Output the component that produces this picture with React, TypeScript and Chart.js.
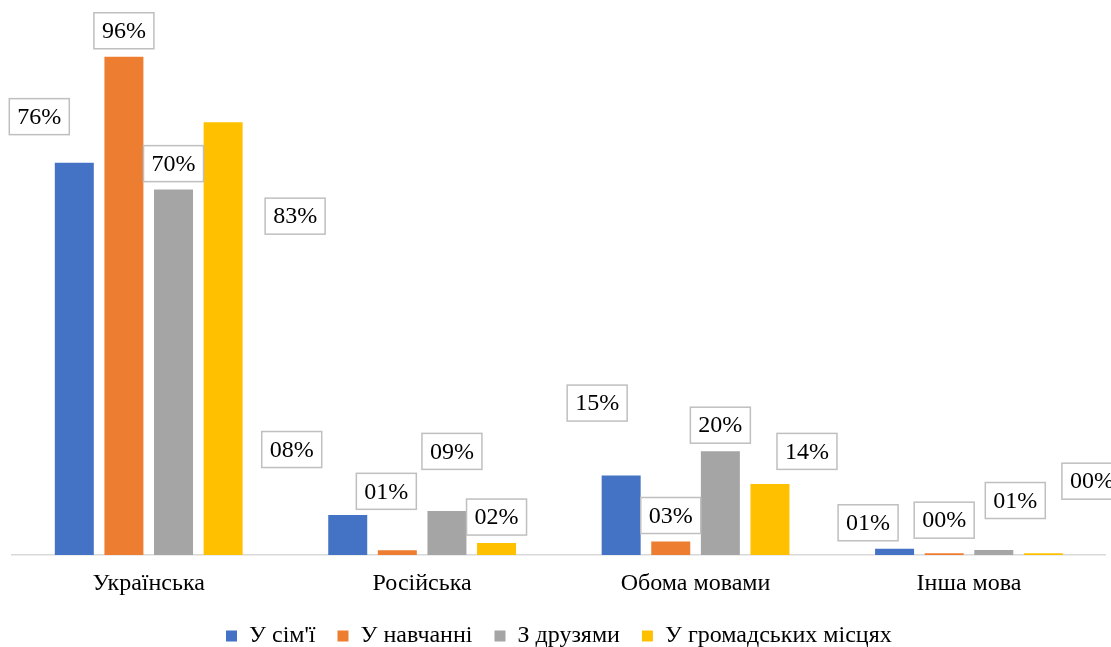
import React, { useEffect, useRef } from 'react';
import { Chart, registerables } from 'chart.js';

Chart.register(...registerables);

const categories = ['Українська', 'Російська', 'Обома мовами', 'Інша мова'];
const seriesNames = ["У сім'ї", 'У навчанні', 'З друзями', 'У громадських місцях'];
const inFamily = [75.6, 7.7, 15.3, 1.2];
const inStudy = [96, 0.9, 2.6, 0.35];
const withFriends = [70.4, 8.5, 20, 0.96];
const inPublic = [83.4, 2.3, 13.7, 0.35];
const seriesValues = [inFamily, inStudy, withFriends, inPublic];
const seriesColors = ['#4472C4', '#ED7D31', '#A5A5A5', '#FFC000'];

// Manual label placement nudges (px) relative to the default spot above each bar
const labelNudgeX = [
  [-35, -56, -24, -26.5],
  [0, -11, 0, 0],
  [0, 5, 0, 21.5],
  [72, 0, 37, 48.5],
];
const labelNudgeY = [
  [-20, -39.5, -46.5, 0],
  [0, -33, 0, -7],
  [0, -33.5, 0, -23.5],
  [120, 0, -6.5, -46],
];

const FONT = '"Liberation Serif", "Times New Roman", serif';

const boxedLabels = {
  id: 'boxedLabels',
  afterDatasetsDraw(chart: any) {
    const ctx = chart.ctx;
    ctx.save();
    ctx.font = '24px ' + FONT;
    ctx.textAlign = 'center';
    ctx.textBaseline = 'middle';
    chart.data.datasets.forEach((ds: any, i: number) => {
      const meta = chart.getDatasetMeta(i);
      meta.data.forEach((bar: any, j: number) => {
        const v = ds.data[j] as number;
        const text = String(Math.round(v)).padStart(2, '0') + '%';
        const w = ctx.measureText(text).width + 16;
        const h = 36;
        const cx = bar.x + labelNudgeX[i][j];
        const cy = bar.y - 26 + labelNudgeY[i][j];
        ctx.fillStyle = '#FFFFFF';
        ctx.fillRect(cx - w / 2, cy - h / 2, w, h);
        ctx.strokeStyle = '#BFBFBF';
        ctx.lineWidth = 1.5;
        ctx.strokeRect(cx - w / 2, cy - h / 2, w, h);
        ctx.fillStyle = '#000000';
        ctx.fillText(text, cx, cy + 1);
      });
    });
    ctx.restore();
  },
};

export default function App() {
  const canvasRef = useRef<HTMLCanvasElement | null>(null);

  useEffect(() => {
    const canvas = canvasRef.current;
    if (!canvas) return;
    const chart = new Chart(canvas, {
      type: 'bar',
      data: {
        labels: categories,
        datasets: seriesNames.map((name, i) => ({
          label: name,
          data: seriesValues[i],
          backgroundColor: seriesColors[i],
          borderWidth: 0,
          categoryPercentage: 0.7257,
          barPercentage: 0.786,
        })),
      },
      options: {
        responsive: false,
        animation: false,
        devicePixelRatio: 1,
        layout: { padding: { left: 12, right: 19.3, top: 36, bottom: 2 } },
        scales: {
          x: {
            grid: { display: false, drawTicks: false },
            border: { display: true, color: '#D9D9D9', width: 1.5 },
            ticks: { font: { family: FONT, size: 24 }, color: '#000000', padding: 14 },
            afterFit: (s: any) => {
              s.height = 47;
            },
          },
          y: { display: false, min: 0, max: 100 },
        },
        plugins: {
          legend: {
            position: 'bottom',
            labels: {
              boxWidth: 11,
              boxHeight: 11,
              padding: 22,
              font: { family: FONT, size: 24 },
              color: '#000000',
            },
          },
          tooltip: { enabled: false },
        },
      },
      plugins: [boxedLabels],
    } as any);
    return () => chart.destroy();
  }, []);

  return (
    <div
      style={{
        position: 'fixed',
        left: 0,
        top: 0,
        width: 1111,
        height: 647,
        overflow: 'hidden',
        background: '#FFFFFF',
      }}
    >
      <canvas ref={canvasRef} width={1125} height={660} style={{ width: 1125, height: 660, display: 'block' }} />
    </div>
  );
}
